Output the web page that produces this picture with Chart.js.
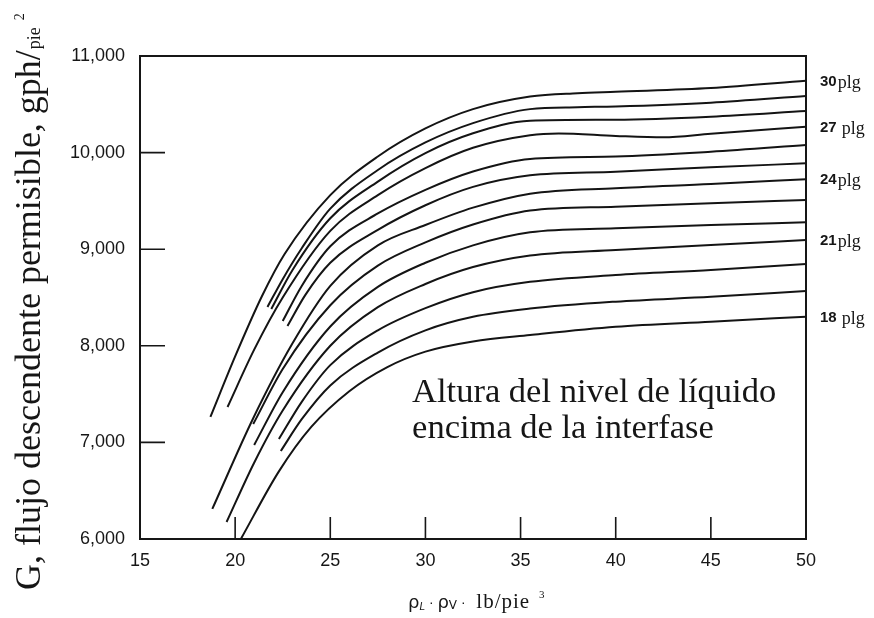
<!DOCTYPE html>
<html lang="es">
<head>
<meta charset="UTF-8">
<title>Flujo descendente permisible</title>
<script src="https://cdn.jsdelivr.net/npm/chart.js"></script>
<style>
  html, body { margin: 0; padding: 0; background: #fff; }
</style>
</head>
<body>
<canvas id="chart" width="874" height="618"></canvas>
<script>
// altura del nivel de liquido (plg) para cada curva, de arriba a abajo
var alturas = [30, 29, 28, 27, 26, 25, 24, 23, 22, 21, 20, 19, 18];

// rho_L - rho_V (lb/pie3) y G (gph/pie2)
var x30 = [18.7, 20.0, 21.4, 22.6, 25, 27.5, 30, 32.5, 35.5, 38, 40, 45, 50];
var g30 = [7263, 7890, 8510, 8950, 9560, 9960, 10250, 10450, 10580, 10615, 10630, 10668, 10744];
var x29 = [21.7, 22.5, 23.5, 25, 27.5, 30, 32.5, 35.5, 38, 40, 45, 50];
var g29 = [8402, 8690, 9010, 9420, 9820, 10105, 10305, 10450, 10470, 10478, 10517, 10586];
var x28 = [21.9, 23, 25, 27.5, 30, 32.5, 35.5, 40, 45, 50];
var g28 = [8381, 8780, 9320, 9700, 9995, 10200, 10330, 10340, 10372, 10431];
var x27 = [19.6, 21.0, 22.5, 25, 27.5, 30, 32.5, 35.5, 37, 40, 42.5, 45, 50];
var g27 = [7366, 7960, 8500, 9190, 9560, 9840, 10050, 10180, 10198, 10172, 10158, 10195, 10268];
var x26 = [22.5, 23.5, 25, 27.5, 30, 32.5, 35.5, 40, 45, 50];
var g26 = [8257, 8620, 9030, 9370, 9615, 9805, 9935, 9960, 10009, 10079];
var x25 = [22.75, 23.7, 25, 27.5, 30, 32.5, 35.5, 40, 45, 50];
var g25 = [8205, 8530, 8860, 9200, 9455, 9645, 9765, 9802, 9848, 9889];
var x24 = [18.8, 20.95, 23, 25, 27.5, 30, 32.5, 35.5, 40, 45, 50];
var g24 = [6311, 7250, 8020, 8620, 9040, 9250, 9430, 9575, 9632, 9675, 9724];
var x23 = [20.95, 22.5, 25, 27.5, 30, 32.5, 35.5, 40, 45, 50];
var g23 = [7190, 7760, 8420, 8830, 9070, 9255, 9400, 9440, 9475, 9509];
var x22 = [21.0, 22.5, 25, 27.5, 30, 32.5, 35.5, 40, 45, 50];
var g22 = [6973, 7520, 8200, 8610, 8860, 9040, 9175, 9216, 9251, 9278];
var x21 = [19.55, 21.0, 22.5, 25, 27.5, 30, 32.5, 35.5, 40, 45, 50];
var g21 = [6176, 6790, 7330, 8000, 8400, 8640, 8815, 8935, 8992, 9044, 9095];
var x20 = [22.3, 23.5, 25, 27.5, 30, 32.5, 35.5, 40, 45, 50];
var g20 = [7035, 7420, 7800, 8160, 8390, 8555, 8662, 8733, 8785, 8847];
var x19 = [22.4, 23.5, 25, 27.5, 30, 32.5, 35.5, 40, 45, 50];
var g19 = [6911, 7240, 7590, 7930, 8160, 8300, 8385, 8457, 8508, 8567];
var x18 = [20.3, 22.3, 24, 26, 28, 30, 32.5, 35.5, 40, 45, 50];
var g18 = [6000, 6700, 7160, 7530, 7780, 7940, 8045, 8112, 8198, 8250, 8301];

var xsPorCurva = [x30, x29, x28, x27, x26, x25, x24, x23, x22, x21, x20, x19, x18];
var gsPorCurva = [g30, g29, g28, g27, g26, g25, g24, g23, g22, g21, g20, g19, g18];

// curvas rotuladas a la derecha
var rotulos = [30, 27, 24, 21, 18];
var rotuloTexto = ['30', '27 ', '24', '21', '18 '];

// texto dentro del grafico
var notaLineas = ['Altura del nivel de líquido', 'encima de la interfase'];
var notaX = 29.3;
var notaG = [7420, 7045];

var datasets = alturas.map(function (h, i) {
    return {
        label: h + ' plg',
        data: xsPorCurva[i].map(function (x, j) { return { x: x, y: gsPorCurva[i][j] }; }),
        borderColor: '#141414',
        borderWidth: 2,
        pointRadius: 0,
        fill: false,
        cubicInterpolationMode: 'monotone'
    };
});

var negro = '#161616';

// marco, marcas hacia dentro y textos
var decorado = {
    id: 'decorado',
    afterDatasetsDraw: function (chart) {
        var ctx = chart.ctx, a = chart.chartArea;
        var sx = chart.scales.x, sy = chart.scales.y;
        ctx.save();
        ctx.strokeStyle = negro;
        ctx.fillStyle = negro;
        ctx.lineWidth = 2;
        ctx.strokeRect(a.left, a.top, a.right - a.left, a.bottom - a.top);

        ctx.lineWidth = 1.6;
        ctx.beginPath();
        sy.ticks.forEach(function (t) {
            if (t.value <= sy.min || t.value >= sy.max) return;
            var py = sy.getPixelForValue(t.value);
            ctx.moveTo(a.left, py);
            ctx.lineTo(a.left + 25, py);
        });
        sx.ticks.forEach(function (t) {
            if (t.value <= sx.min || t.value >= sx.max) return;
            var px = sx.getPixelForValue(t.value);
            ctx.moveTo(px, a.bottom);
            ctx.lineTo(px, a.bottom - 22);
        });
        ctx.stroke();

        // nota
        ctx.font = '34.5px "Liberation Serif", "Times New Roman", serif';
        ctx.textBaseline = 'alphabetic';
        ctx.textAlign = 'left';
        notaLineas.forEach(function (t, i) {
            ctx.fillText(t, sx.getPixelForValue(notaX), sy.getPixelForValue(notaG[i]));
        });

        // rotulos de curvas
        rotulos.forEach(function (h, i) {
            var k = alturas.indexOf(h);
            var gs = gsPorCurva[k];
            var py = sy.getPixelForValue(gs[gs.length - 1]) + 5;
            var px = a.right + 14;
            ctx.font = 'bold 15px "Liberation Sans", Arial, sans-serif';
            ctx.fillText(rotuloTexto[i], px, py);
            px += ctx.measureText(rotuloTexto[i]).width + 1;
            ctx.font = '18px "Liberation Serif", "Times New Roman", serif';
            ctx.fillText('plg', px, py + 2);
        });

        // titulo eje y (girado)
        ctx.save();
        ctx.translate(40, 590);
        ctx.rotate(-Math.PI / 2);
        ctx.font = '36px "Liberation Serif", "Times New Roman", serif';
        var t1 = 'G, flujo descendente permisible, gph/';
        ctx.fillText(t1, 0, 0);
        var w = ctx.measureText(t1).width;
        ctx.font = '18px "Liberation Serif", "Times New Roman", serif';
        ctx.fillText('pie', w + 1, 0);
        w += ctx.measureText('pie').width + 8;
        ctx.font = '14px "Liberation Serif", "Times New Roman", serif';
        ctx.fillText('2', w, -16);
        ctx.restore();

        // titulo eje x
        var bx = 408, by = 608;
        function trozo(txt, font, dy, esp) {
            ctx.font = font;
            ctx.letterSpacing = (esp || 0) + 'px';
            ctx.fillText(txt, bx, by + (dy || 0));
            bx += ctx.measureText(txt).width;
            ctx.letterSpacing = '0px';
        }
        var sans = '"DejaVu Sans", sans-serif';
        var serif = '"Liberation Serif", "Times New Roman", serif';
        trozo('ρ', '18px ' + sans);
        trozo('L', 'italic 10px ' + sans, 2);
        trozo(' · ', '13px ' + sans);
        trozo('ρ', '18px ' + sans);
        trozo('V', '12px ' + sans, 1);
        trozo(' ·', '13px ' + sans);
        bx += 11;
        trozo('lb/pie', '21px ' + serif, 0, 1);
        bx += 9;
        trozo('3', '11px ' + serif, -10);
        ctx.restore();
    }
};

var ctx = document.getElementById('chart').getContext('2d');
var grafico = new Chart(ctx, {
    type: 'line',
    data: { datasets: datasets },
    options: {
        responsive: false,
        animation: false,
        layout: { padding: { top: 56, right: 68, left: 0, bottom: 0 } },
        plugins: {
            legend: { display: false },
            tooltip: { enabled: false }
        },
        scales: {
            x: {
                type: 'linear',
                min: 15,
                max: 50,
                grid: { display: false, drawTicks: false },
                border: { display: false },
                ticks: {
                    stepSize: 5,
                    padding: 11,
                    color: negro,
                    font: { family: '"Liberation Sans", Arial, sans-serif', size: 18 }
                },
                afterFit: function (s) { s.height = 79; }
            },
            y: {
                min: 6000,
                max: 11000,
                grid: { display: false, drawTicks: false },
                border: { display: false },
                ticks: {
                    stepSize: 1000,
                    padding: 15,
                    color: negro,
                    font: { family: '"Liberation Sans", Arial, sans-serif', size: 18 },
                    callback: function (v) { return v.toLocaleString('en-US'); }
                },
                afterFit: function (s) { s.width = 140; }
            }
        }
    },
    plugins: [decorado]
});
</script>
</body>
</html>
